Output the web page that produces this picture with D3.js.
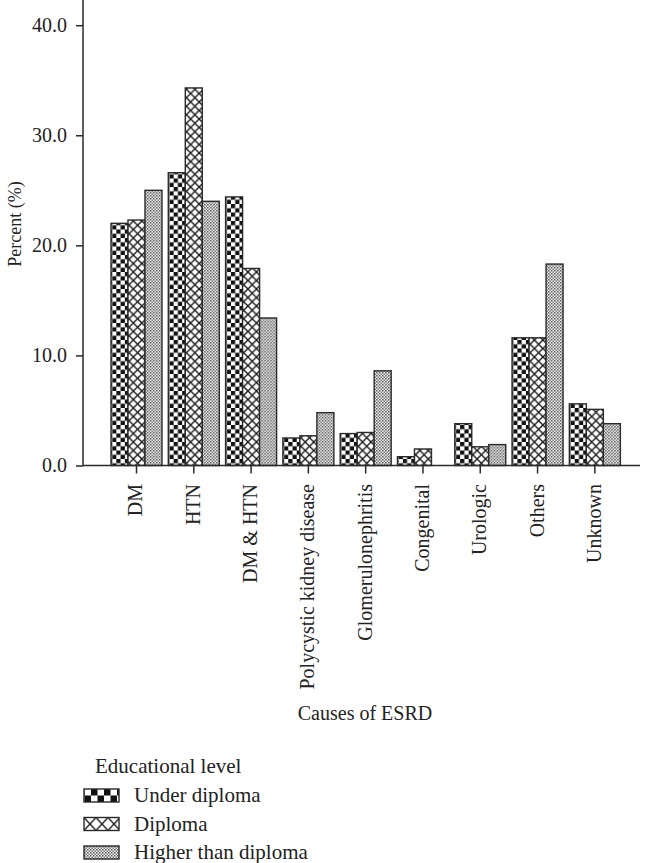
<!DOCTYPE html>
<html>
<head>
<meta charset="utf-8">
<script src="https://cdn.jsdelivr.net/npm/d3@7/dist/d3.min.js"></script>
<style>
  html, body { margin: 0; padding: 0; background: #fff; }
  svg { display: block; }
  text { font-family: "Liberation Serif", "Times New Roman", serif; fill: #222; }
</style>
</head>
<body>
<svg id="chart" width="648" height="863"></svg>
<script>
const categories = ["DM", "HTN", "DM & HTN", "Polycystic kidney disease", "Glomerulonephritis",
  "Congenital", "Urologic", "Others", "Unknown"];
const seriesNames = ["Under diploma", "Diploma", "Higher than diploma"];
const underDiploma = [22.0, 26.6, 24.4, 2.5, 2.9, 0.8, 3.8, 11.6, 5.6];
const diploma      = [22.3, 34.3, 17.9, 2.7, 3.0, 1.5, 1.7, 11.6, 5.1];
const higherThan   = [25.0, 24.0, 13.4, 4.8, 8.6, 0.0, 1.9, 18.3, 3.8];
const yTicks = [0, 10, 20, 30, 40];
const seriesValues = [underDiploma, diploma, higherThan];

const svg = d3.select("#chart");
const defs = svg.append("defs");
const stroke = "#2a2a2a";

// Patterns
function checker(id, s) {
  const p = defs.append("pattern").attr("id", id).attr("patternUnits", "userSpaceOnUse")
    .attr("width", 2 * s).attr("height", 2 * s);
  p.append("rect").attr("width", 2 * s).attr("height", 2 * s).attr("fill", "#fff");
  p.append("rect").attr("x", 0).attr("y", 0).attr("width", s).attr("height", s).attr("fill", "#111");
  p.append("rect").attr("x", s).attr("y", s).attr("width", s).attr("height", s).attr("fill", "#111");
}
function cross(id, w, h) {
  const p = defs.append("pattern").attr("id", id).attr("patternUnits", "userSpaceOnUse")
    .attr("width", w).attr("height", h);
  p.append("rect").attr("width", w).attr("height", h).attr("fill", "#fff");
  p.append("path").attr("d", `M0,0L${w},${h}M${w},0L0,${h}`)
    .attr("stroke", "#1a1a1a").attr("stroke-width", 1.4).attr("fill", "none");
}
function dots(id) {
  const p = defs.append("pattern").attr("id", id).attr("patternUnits", "userSpaceOnUse")
    .attr("width", 3).attr("height", 3);
  p.append("rect").attr("width", 3).attr("height", 3).attr("fill", "#f4f4f4");
  p.append("rect").attr("x", 0).attr("y", 0).attr("width", 1.5).attr("height", 1.5).attr("fill", "#555");
  p.append("rect").attr("x", 1.5).attr("y", 1.5).attr("width", 1.5).attr("height", 1.5).attr("fill", "#777");
}
checker("pChecker", 4.25);
cross("pCross", 8.5, 8.5);
dots("pDots");
checker("lChecker", 6.5);
cross("lCross", 12, 13);
const fills = ["url(#pChecker)", "url(#pCross)", "url(#pDots)"];
const legendFills = ["url(#lChecker)", "url(#lCross)", "url(#pDots)"];

// Scales
const y0 = 465.5;
const y = d3.scaleLinear().domain([0, 40]).range([y0, 25.2]);
const yTop = 0;
const x = d3.scaleBand().domain(categories).range([107.85, 623.5]).paddingInner(0).paddingOuter(0);
const step = x.step();
const x1 = d3.scaleBand().domain(seriesNames).range([(step - 51) / 2, (step + 51) / 2]);

// Bars
const groups = svg.append("g").selectAll("g").data(categories).join("g")
  .attr("transform", d => `translate(${x(d)},0)`);
groups.selectAll("rect")
  .data((c, i) => seriesNames.map((s, k) => ({ s, k, v: seriesValues[k][i] })).filter(d => d.v > 0))
  .join("rect")
  .attr("x", d => x1(d.s))
  .attr("y", d => y(d.v))
  .attr("width", x1.bandwidth())
  .attr("height", d => y0 - y(d.v))
  .attr("fill", d => fills[d.k])
  .attr("stroke", stroke)
  .attr("stroke-width", 1.4);

// Y axis
const yAxis = d3.axisLeft(y).tickValues(yTicks).tickFormat(d3.format(".1f")).tickSize(7).tickPadding(9).tickSizeOuter(0);
const gy = svg.append("g").attr("transform", "translate(83,0)").call(yAxis);
gy.select(".domain").attr("d", `M0,${y0}V${yTop}`);
gy.selectAll("path, line").attr("stroke", stroke).attr("stroke-width", 1.5);
gy.selectAll("text").attr("font-size", 20).attr("font-family", "Liberation Serif").attr("fill", "#222");

// X axis
const xAxis = d3.axisBottom(x).tickSize(8).tickSizeOuter(0).tickFormat("");
const gx = svg.append("g").attr("transform", `translate(0,${y0})`).call(xAxis);
gx.select(".domain").attr("d", "M83,0H640");
gx.selectAll("path, line").attr("stroke", stroke).attr("stroke-width", 1.5);

// X labels rotated
svg.append("g").selectAll("text").data(categories).join("text")
  .attr("transform", d => `translate(${x(d) + step / 2 + 6},484) rotate(-90)`)
  .attr("text-anchor", "end")
  .attr("font-size", 20)
  .text(d => d);

// Axis titles
svg.append("text").attr("x", 365).attr("y", 720).attr("text-anchor", "middle")
  .attr("font-size", 20).text("Causes of ESRD");
svg.append("text").attr("transform", "translate(21,224) rotate(-90)").attr("text-anchor", "middle")
  .attr("font-size", 18).text("Percent (%)");

// Legend
svg.append("text").attr("x", 95).attr("y", 773).attr("font-size", 21).text("Educational level");
const leg = svg.append("g").selectAll("g").data(seriesNames).join("g")
  .attr("transform", (d, i) => `translate(0,${789 + i * 28.5})`);
leg.append("rect").attr("x", 84).attr("y", 0).attr("width", 35).attr("height", 13)
  .attr("fill", (d, i) => legendFills[i]).attr("stroke", stroke).attr("stroke-width", 1.4);
leg.append("text").attr("x", 134).attr("y", 13).attr("font-size", 21).text(d => d);
</script>
</body>
</html>
